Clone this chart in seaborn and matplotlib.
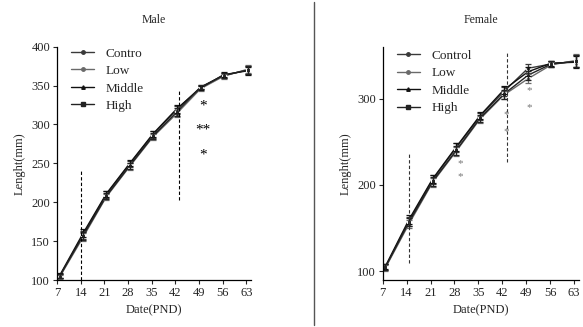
import matplotlib
matplotlib.use("Agg")
import matplotlib.pyplot as plt
from matplotlib.lines import Line2D
import numpy as np
import pandas as pd
import seaborn as sns

sns.set_theme(style="ticks")
plt.rcParams["font.family"] = ["Liberation Serif", "DejaVu Serif"]
plt.rcParams["font.size"] = 9

# ── Dữ liệu ──
days = [7.8, 14.7, 21.6, 28.5, 35.4, 42.4, 49.5, 56.3, 63.4]
groups_male = ["Contro", "Low", "Middle", "High"]
groups_female = ["Control", "Low", "Middle", "High"]

male_control = [105, 158, 210, 249, 287, 319, 348, 363, 370]
male_low = [104, 155, 207, 246, 284, 314, 346, 362, 371]
male_middle = [106, 160, 211, 250, 288, 320, 347, 364, 369]
male_high = [105, 157, 208, 247, 285, 316, 348, 363, 370]
male_err = [3, 5, 4, 4, 4, 5, 3, 3, 5]

female_control = [105, 158, 206, 243, 279, 308, 335, 340, 343]
female_low = [104, 155, 203, 239, 276, 304, 323, 339, 344]
female_middle = [106, 160, 207, 244, 280, 310, 331, 341, 342]
female_high = [105, 157, 204, 240, 277, 305, 327, 340, 343]
female_err = [3, 5, 5, 5, 4, 5, 5, 3, 7]

# dấu sao: (x, y, text)
male_stars_x = [50.1, 50.1, 50.1]
male_stars_y = [327, 296, 264]
male_stars_txt = ["*", "**", "*"]
female_stars_x = [29.6, 29.6, 43.2, 43.2, 49.9, 49.9]
female_stars_y = [227, 212, 283, 264, 311, 292]

colors = ["#3a3a3a", "#6a6a6a", "#111111", "#222222"]
markers = ["o", "o", "^", "s"]


def long_df(groups, series):
    rows = []
    for g, vals in zip(groups, series):
        for d, v in zip(days, vals):
            rows.append({"day": d, "length": v, "group": g})
    return pd.DataFrame(rows)


def draw_panel(ax, groups, series, err, title, ylim, yticks, legend_pos):
    df = long_df(groups, series)
    sns.lineplot(data=df, x="day", y="length", hue="group", style="group",
                 palette=dict(zip(groups, colors)),
                 markers=dict(zip(groups, markers)), dashes=False,
                 markersize=3.5, linewidth=1.0, ax=ax, legend=False)
    for g, vals, c in zip(groups, series, colors):
        ax.errorbar(days, vals, yerr=err, fmt="none", ecolor=c,
                    elinewidth=0.9, capsize=2.2, capthick=0.9)
    ax.set_xlim(7, 64.4)
    ax.set_ylim(*ylim)
    ax.set_xticks([7, 14, 21, 28, 35, 42, 49, 56, 63])
    ax.set_yticks(yticks)
    ax.set_title(title, fontsize=8.5, pad=17)
    ax.set_xlabel("Date(PND)", fontsize=9)
    ax.set_ylabel("Lenght(mm)", fontsize=9)
    ax.tick_params(labelsize=9, length=3, width=0.8, pad=2)
    for s in ["left", "bottom"]:
        ax.spines[s].set_linewidth(0.9)
        ax.spines[s].set_color("black")
    sns.despine(ax=ax)
    handles = [Line2D([0], [0], color=c, marker=m, markersize=2.5, lw=1.0)
               for c, m in zip(colors, markers)]
    ax.legend(handles, groups, loc="upper left", bbox_to_anchor=legend_pos,
              frameon=False, fontsize=9.5, handlelength=1.75,
              labelspacing=0.4, handletextpad=0.9, borderaxespad=0)


fig = plt.figure(figsize=(5.83, 3.27), dpi=100)
ax1 = fig.add_axes([0.0978, 0.1437, 0.3328, 0.7135])
ax2 = fig.add_axes([0.6564, 0.1437, 0.3367, 0.7135])

draw_panel(ax1, groups_male, [male_control, male_low, male_middle, male_high],
           male_err, "Male", (100, 400), [100, 150, 200, 250, 300, 350, 400],
           (0.045, 1.02))
draw_panel(ax2, groups_female,
           [female_control, female_low, female_middle, female_high],
           female_err, "Female", (90, 360), [100, 200, 300], (0.045, 1.01))

# đường đứt nét
ax1.vlines([14.2, 43.0], [100, 203], [240, 345], colors="black",
           linestyles=(0, (3, 2)), linewidth=0.8)
ax2.vlines([14.7, 43.3], [110, 226], [238, 355], colors="#333333",
           linestyles=(0, (3, 2)), linewidth=0.8)

for x, y, t in zip(male_stars_x, male_stars_y, male_stars_txt):
    ax1.text(x, y - 3, t, ha="center", va="center", fontsize=11, color="black")
for x, y in zip(female_stars_x, female_stars_y):
    ax2.text(x, y - 2, "*", ha="center", va="center", fontsize=8, color="#777777")

# đường phân cách giữa hai panel
fig.add_artist(Line2D([0.5386, 0.5386], [0.005, 0.995], color="#555555",
                      linewidth=1.0, transform=fig.transFigure))

fig.savefig("out.png", dpi=100)
